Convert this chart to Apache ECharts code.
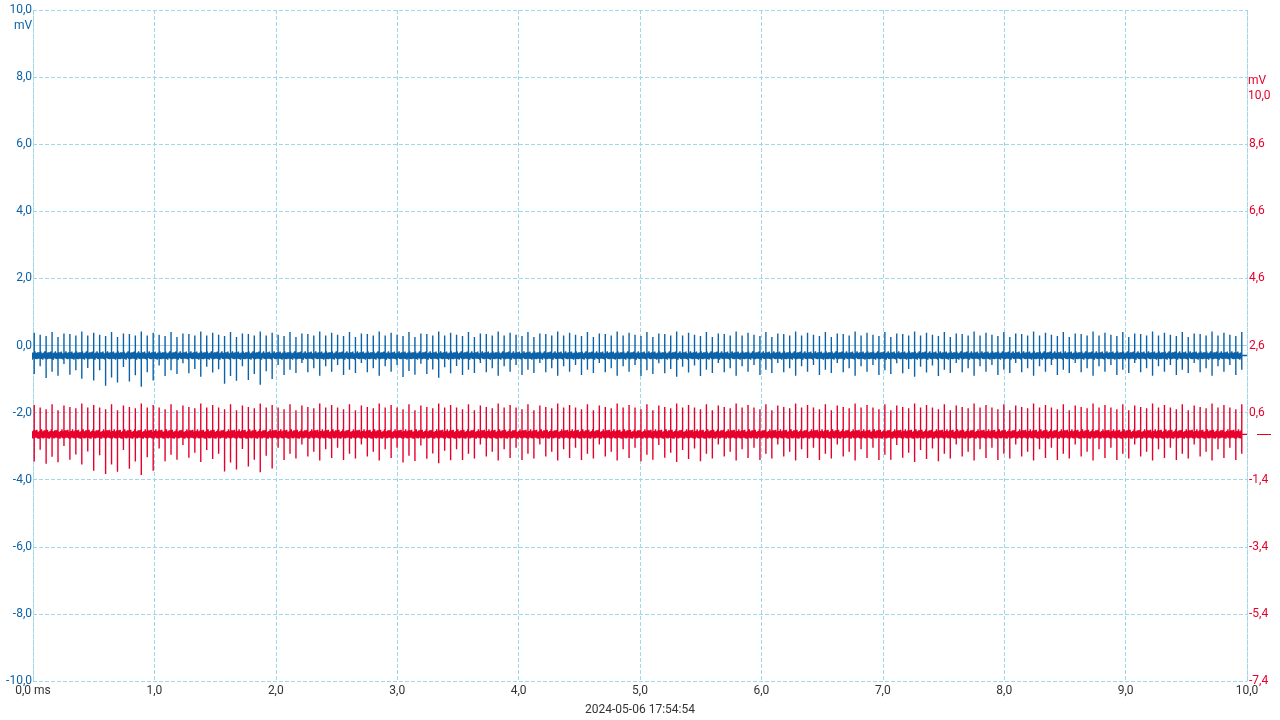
<!DOCTYPE html>
<html><head><meta charset="utf-8">
<script src="https://cdn.jsdelivr.net/npm/echarts@6/dist/echarts.min.js"></script>
<style>html,body{margin:0;background:#fff}#c{width:1280px;height:720px}</style>
</head><body><div id="c"></div>
<script>
// Values (mV / ms)
const xTicks = [0,1,2,3,4,5,6,7,8,9,10];
const leftTicks = [-10,-8,-6,-4,-2,0,2,4,6,8,10];
const rightTicks = [-7.4,-5.4,-3.4,-1.4,0.6,2.6,4.6,6.6,8.6];
const spikePeriod = 0.049;            // ms between spikes
const blueBase = -0.3;                // left axis mV
const redBase = -0.05;                // right axis mV
const blueUp   = [0.68,0.62,0.58,0.70,0.55,0.66,0.64,0.60,0.72,0.60];
const blueDown = [0.48,0.28,0.58,0.42,0.52,0.22,0.50,0.38,0.60,0.32];
const redUp    = [0.88,0.80,0.75,0.90,0.72,0.86,0.82,0.78,0.92,0.80];
const redDown  = [0.70,0.40,0.76,0.58,0.72,0.30,0.66,0.52,0.78,0.44];
// down-swing multiplier per 0.5 ms segment
const envelope = [1.15,1.55,1.05,1.45,1.0,1.0,1.1,1.0,1.0,1.0,1.05,1.0,1.0,1.0,1.05,1.0,1.0,1.0,1.0,1.0];
const blueNoise = [0.1,-0.09,0.12,-0.1,0.07,-0.12,0.09,-0.08,0.13,-0.1,0.08,-0.11,0.1,-0.09];
const redNoise  = [0.12,-0.1,0.14,-0.12,0.08,-0.13,0.1,-0.09,0.15,-0.11,0.09,-0.12,0.12,-0.1];

function build(base, up, down, noise, off){
  const d=[]; let k=off; const n=9;
  for(let i=0;;i++){
    const t=0.01+i*spikePeriod; if(t>9.995) break;
    const env=envelope[Math.min(envelope.length-1,Math.floor(t/0.5))];
    for(let j=1;j<n;j++){ d.push([t-spikePeriod+j*spikePeriod/n, base+noise[k%noise.length]]); k++; }
    d.push([t, base]);
    d.push([t, base+up[i%up.length]]);
    d.push([t, base-down[i%down.length]*env]);
    d.push([t, base]);
  }
  d.push([10, base]);
  return d;
}
const fmt = v => v.toFixed(1).replace('.',',');
const blue='#0b62a8', red='#e6002b', grid='#9fd8ea';
const chart = echarts.init(document.getElementById('c'));
chart.setOption({
  animation:false,
  grid:{left:33,right:33,top:10,bottom:39},
  xAxis:{type:'value',min:0,max:10,interval:1,
    axisLine:{lineStyle:{color:grid}},axisTick:{show:false},
    splitLine:{lineStyle:{color:grid,type:'dashed'}},
    axisLabel:{color:'#333',fontFamily:'Roboto',fontSize:12,margin:4,
      formatter:v=>v===0?'0,0 ms':fmt(v)}},
  yAxis:[
    {type:'value',min:-10,max:10,interval:2,position:'left',
     axisLine:{show:true,lineStyle:{color:grid,type:'dashed'}},axisTick:{show:false},
     splitLine:{lineStyle:{color:grid,type:'dashed'}},
     axisLabel:{color:blue,fontFamily:'Roboto',fontSize:12,margin:1,verticalAlign:'middle',
       formatter:v=>fmt(v)}},
    {type:'value',min:-7.4,max:12.6,interval:2,position:'right',
     axisLine:{show:true,lineStyle:{color:grid,type:'dashed'}},axisTick:{show:false},
     splitLine:{show:false},
     axisLabel:{color:red,fontFamily:'Roboto',fontSize:12,margin:2,verticalAlign:'middle',
       formatter:v=>(v>9?'':fmt(v))}}
  ],
  series:[
    {type:'line',yAxisIndex:0,showSymbol:false,data:build(blueBase,blueUp,blueDown,blueNoise,0),
     lineStyle:{color:blue,width:1.4},itemStyle:{color:blue},silent:true},
    {type:'line',yAxisIndex:1,showSymbol:false,data:build(redBase,redUp,redDown,redNoise,5),
     lineStyle:{color:red,width:1.4},itemStyle:{color:red},silent:true}
  ],
  graphic:[
    {type:'text',left:14,top:20,style:{text:'mV',fill:blue,font:'12px Roboto'}},
    {type:'text',left:1248,top:75,style:{text:'mV',fill:red,font:'12px Roboto'}},
    {type:'text',left:1248,top:90,style:{text:'10,0',fill:red,font:'12px Roboto'}},
    {type:'line',shape:{x1:1257,y1:434.5,x2:1271,y2:434.5},style:{stroke:red,lineWidth:1}},
    {type:'text',left:'center',top:704,style:{text:'2024-05-06 17:54:54',fill:'#333',font:'12px Roboto'}}
  ]
});
</script></body></html>
